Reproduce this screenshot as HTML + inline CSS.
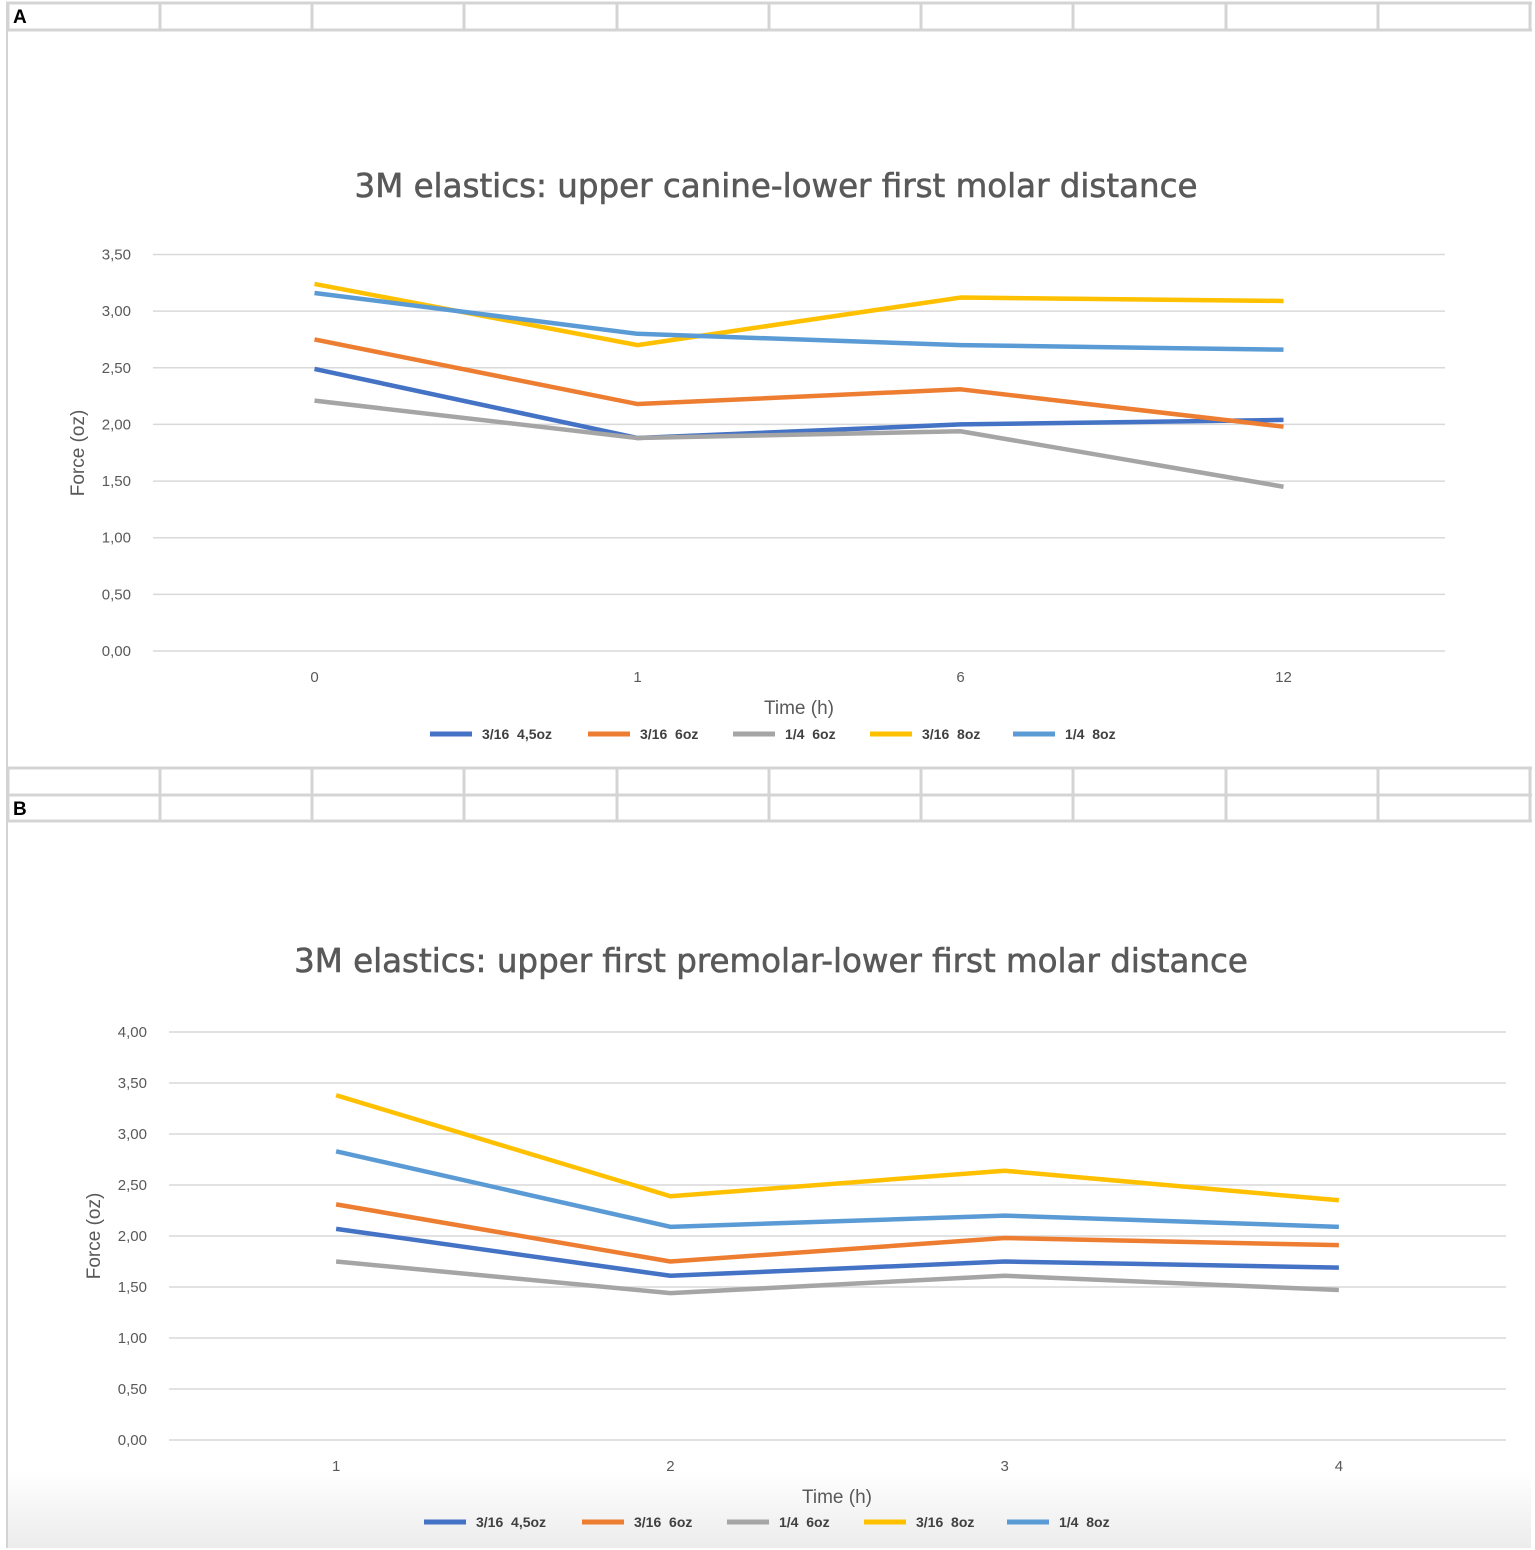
<!DOCTYPE html>
<html><head><meta charset="utf-8">
<style>
html,body{margin:0;padding:0;background:#fff;}
body{width:1535px;height:1550px;position:relative;overflow:hidden;font-family:"Liberation Sans",sans-serif;}
svg{position:absolute;left:0;top:0;}
</style></head>
<body>
<svg id="fig" width="1535" height="1550">
<defs><linearGradient id="bg" x1="0" y1="0" x2="0" y2="1"><stop offset="0" stop-color="#fff"/><stop offset="1" stop-color="#ececec"/></linearGradient></defs>
<rect x="6" y="1470" width="1525" height="78" fill="url(#bg)"/>
</svg>
<script>
const seriesNames=["3/16  4,5oz","3/16  6oz","1/4  6oz","3/16  8oz","1/4  8oz"];
const seriesColors=["#4472c4","#ed7d31","#a5a5a5","#ffc000","#5b9bd5"];
const catsA=["0","1","6","12"];
const ticksA=["0,00","0,50","1,00","1,50","2,00","2,50","3,00","3,50"];
const a1=[2.49,1.88,2.00,2.04];
const a2=[2.75,2.18,2.31,1.98];
const a3=[2.21,1.88,1.94,1.45];
const a4=[3.24,2.70,3.12,3.09];
const a5=[3.16,2.80,2.70,2.66];
const catsB=["1","2","3","4"];
const ticksB=["0,00","0,50","1,00","1,50","2,00","2,50","3,00","3,50","4,00"];
const b1=[2.07,1.61,1.75,1.69];
const b2=[2.31,1.75,1.98,1.91];
const b3=[1.75,1.44,1.61,1.47];
const b4=[3.38,2.39,2.64,2.35];
const b5=[2.83,2.09,2.20,2.09];

const NS="http://www.w3.org/2000/svg";
const svg=document.getElementById('fig');
function mk(tag,attrs,parent){const e=document.createElementNS(NS,tag);for(const k in attrs)e.setAttribute(k,attrs[k]);(parent||svg).appendChild(e);return e;}

const colX=[8,160,312,464,617,769,921,1073,1226,1378,1530];
function gridRows(rows,name){
  const g=mk('g',{});
  
  
  rows.forEach(y=>mk('line',{x1:6,x2:1532,y1:y,y2:y,stroke:'#d4d4d4','stroke-width':3},g));
  colX.forEach(x=>mk('line',{x1:x,x2:x,y1:rows[0],y2:rows[rows.length-1],stroke:'#d4d4d4','stroke-width':3},g));
}
mk('line',{x1:7,x2:7,y1:2,y2:1548,stroke:'#d4d4d4','stroke-width':2});
gridRows([3,30],'sheet-header-a');
gridRows([768,795,821],'sheet-header-b');
let t=mk('text',{x:13,y:23,'font-size':19,'font-weight':'bold',fill:'#000'});t.textContent='A';

t=mk('text',{x:13,y:815,'font-size':19,'font-weight':'bold',fill:'#000'});t.textContent='B';


function chart(cfg){
  const g=mk('g',{});
  
  
  const maxV=(cfg.ticks.length-1)*0.5;
  const y=v=>cfg.y0-(v/maxV)*(cfg.y0-cfg.yTop);
  const bw=(cfg.x1-cfg.x0)/cfg.cats.length;
  const x=i=>cfg.x0+bw*(i+0.5);
  let tt=mk('text',{x:cfg.titleX,y:cfg.titleY,'font-size':32.5,fill:'#595959','text-anchor':'middle','font-family':'"DejaVu Sans",sans-serif',stroke:'#595959','stroke-width':0.6},g);
  tt.textContent=cfg.title;
  
  cfg.ticks.forEach((lab,i)=>{
    const yy=y(i*0.5);
    const l=mk('line',{x1:cfg.x0,x2:cfg.x1,y1:yy,y2:yy,stroke:'#d9d9d9','stroke-width':1.5},g);
    
    const tx=mk('text',{x:cfg.x0-22,y:yy+5,'font-size':15,fill:'#595959','text-anchor':'end'},g);
    tx.textContent=lab;
    
  });
  cfg.cats.forEach((c,i)=>{
    const tx=mk('text',{x:x(i),y:cfg.y0+31,'font-size':15,fill:'#595959','text-anchor':'middle'},g);
    tx.textContent=c;
    
  });
  const yt=mk('text',{x:0,y:0,'font-size':19,fill:'#595959','text-anchor':'middle',transform:`translate(${cfg.yTitleX},${cfg.yTitleY}) rotate(-90)`},g);
  yt.textContent='Force (oz)';
  
  const xt=mk('text',{x:cfg.xTitleX,y:cfg.y0+63,'font-size':19,fill:'#595959','text-anchor':'middle'},g);
  xt.textContent='Time (h)';
  
  cfg.data.forEach((arr,s)=>{
    const pts=arr.map((v,i)=>x(i)+','+y(v)).join(' ');
    const p=mk('polyline',{points:pts,fill:'none',stroke:seriesColors[s],'stroke-width':4.5,'stroke-linejoin':'round'},g);
    
  });
  const lx=cfg.legX, offs=[0,158,303,440,583];
  seriesNames.forEach((n,s)=>{
    const le=mk('g',{},g);
    
    mk('line',{x1:lx+offs[s],x2:lx+offs[s]+42,y1:cfg.legY,y2:cfg.legY,stroke:seriesColors[s],'stroke-width':5},le);
    const tx=mk('text',{x:lx+offs[s]+52,y:cfg.legY+5,'font-size':14,'font-weight':'bold',fill:'#404040',style:'white-space:pre'},le);
    tx.textContent=n;
  });
}
chart({name:'chart-a',title:'3M elastics: upper canine-lower first molar distance',titleX:776,titleY:197,
  x0:153,x1:1445,y0:651,yTop:254.5,cats:catsA,ticks:ticksA,data:[a1,a2,a3,a4,a5],
  yTitleX:84,yTitleY:453,xTitleX:799,legX:430,legY:734});
chart({name:'chart-b',title:'3M elastics: upper first premolar-lower first molar distance',titleX:771,titleY:972,
  x0:169,x1:1506,y0:1440,yTop:1032,cats:catsB,ticks:ticksB,data:[b1,b2,b3,b4,b5],
  yTitleX:100,yTitleY:1236,xTitleX:837,legX:424,legY:1522});
</script>
</body></html>
